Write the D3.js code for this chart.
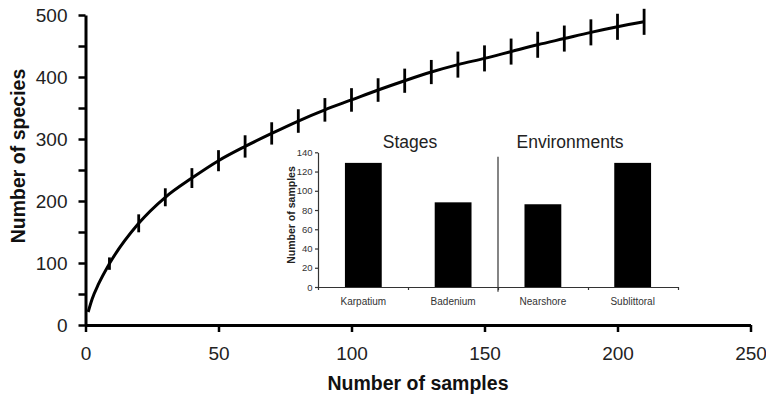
<!DOCTYPE html>
<html>
<head>
<meta charset="utf-8">
<script src="https://cdn.jsdelivr.net/npm/d3@7"></script>
<style>
  html, body { margin: 0; padding: 0; background: #fff; }
  svg { display: block; }
  text { font-family: "Liberation Sans", Arial, sans-serif; }
</style>
</head>
<body>
<svg id="chart" width="766" height="399"></svg>
<script>
// Rarefaction curve: number of samples vs. species, with standard deviation bars
const samples = [1, 2.5, 5, 9, 20, 30, 40, 50, 60, 70, 80, 90, 100, 110, 120, 130, 140, 150, 160, 170, 180, 190, 200, 210];
const species = [21, 42, 67, 99, 164, 206, 237, 265, 288, 309, 329, 347, 363, 379, 394, 408, 420, 430, 441, 452, 462, 472, 481, 489];
const speciesSD = [0, 0, 0, 10, 14.5, 14.5, 16, 17, 18, 18, 19, 19, 19, 19, 19.5, 19.5, 21, 21, 21, 21, 21, 21, 21, 21];

const xTicks = [0, 50, 100, 150, 200, 250];
const yTicks = [0, 50, 100, 150, 200, 250, 300, 350, 400, 450, 500];

// Inset: sample counts per stage and per environment
const insetGroups = ["Stages", "Environments"];
const insetCategories = ["Karpatium", "Badenium", "Nearshore", "Sublittoral"];
const insetCounts = [129, 88, 86, 129];
const insetYTicks = [0, 20, 40, 60, 80, 100, 120, 140];

const svg = d3.select("#chart");

// ---- main plot ----
const x = d3.scaleLinear().domain([0, 250]).range([85.5, 750.5]);
const y = d3.scaleLinear().domain([0, 500]).range([325, 15]);

const points = samples.map((s, i) => ({ s, v: species[i], sd: speciesSD[i] }));

const line = d3.line()
  .x(d => x(d.s))
  .y(d => y(d.v))
  .curve(d3.curveMonotoneX);

svg.append("path")
  .datum(points)
  .attr("d", line)
  .attr("fill", "none")
  .attr("stroke", "#000")
  .attr("stroke-width", 3);

svg.append("g")
  .selectAll("line")
  .data(points.filter(d => d.sd > 0))
  .join("line")
  .attr("x1", d => x(d.s))
  .attr("x2", d => x(d.s))
  .attr("y1", d => y(d.v - d.sd))
  .attr("y2", d => y(d.v + d.sd))
  .attr("stroke", "#000")
  .attr("stroke-width", 2.8);

const yAxis = d3.axisLeft(y)
  .tickValues(yTicks)
  .tickSize(7)
  .tickSizeOuter(0)
  .tickPadding(11)
  .tickFormat(d => (d % 100 === 0 ? d : ""));

const gy = svg.append("g").attr("transform", "translate(85.5,0)").call(yAxis);

const xAxis = d3.axisBottom(x)
  .tickValues(xTicks)
  .tickSize(7)
  .tickSizeOuter(0)
  .tickPadding(15);

const gx = svg.append("g").attr("transform", "translate(0,325)").call(xAxis);

[gx, gy].forEach(g => {
  g.select(".domain").attr("stroke", "#000").attr("stroke-width", 3);
  g.selectAll(".tick line").attr("stroke", "#000").attr("stroke-width", 2.5);
  g.selectAll(".tick text")
    .attr("fill", "#222")
    .style("font-size", "19px")
    .style("font-family", "'Liberation Sans', Arial, sans-serif");
});

svg.append("text")
  .attr("x", 418)
  .attr("y", 390)
  .attr("text-anchor", "middle")
  .attr("fill", "#111")
  .style("font-size", "19.5px")
  .style("font-weight", "bold")
  .text("Number of samples");

svg.append("text")
  .attr("transform", "translate(25,156) rotate(-90)")
  .attr("text-anchor", "middle")
  .attr("fill", "#111")
  .style("font-size", "19.5px")
  .style("font-weight", "bold")
  .text("Number of species");

// ---- inset bar chart ----
const ix = d3.scaleBand().domain(insetCategories).range([318, 678]).paddingInner(0.59).paddingOuter(0.3);
const ixEdges = d3.scaleLinear().domain([0, 4]).range([318, 678]);
const iy = d3.scaleLinear().domain([0, 140]).range([287, 152.3]);

const inset = svg.append("g");

inset.selectAll("rect")
  .data(insetCategories.map((c, i) => ({ c, v: insetCounts[i] })))
  .join("rect")
  .attr("x", d => ix(d.c))
  .attr("width", ix.bandwidth())
  .attr("y", d => iy(d.v))
  .attr("height", d => iy(0) - iy(d.v))
  .attr("fill", "#000");

const iyAxis = d3.axisLeft(iy)
  .tickValues(insetYTicks)
  .tickSize(3)
  .tickSizeOuter(0)
  .tickPadding(2.5);
const giy = inset.append("g").attr("transform", "translate(318,0)").call(iyAxis);

// category boundary ticks along the inset baseline
const gEdges = inset.append("g").attr("transform", "translate(0,287)")
  .call(d3.axisBottom(ixEdges).ticks(4).tickSize(3).tickSizeOuter(0).tickFormat(""));

const gix = inset.append("g").attr("transform", "translate(0,287)")
  .call(d3.axisBottom(ix).tickSize(0).tickPadding(11));
gix.select(".domain").remove();

[giy, gEdges].forEach(g => {
  g.select(".domain").attr("stroke", "#333").attr("stroke-width", 1.2);
  g.selectAll(".tick line").attr("stroke", "#333").attr("stroke-width", 1.2);
});
[giy, gix].forEach(g => {
  g.selectAll(".tick text")
    .attr("fill", "#333")
    .style("font-size", "9.5px")
    .style("font-family", "'Liberation Sans', Arial, sans-serif");
});
gix.selectAll(".tick text").style("font-size", "10px");

// divider between the two groups
inset.append("line")
  .attr("x1", ixEdges(2)).attr("x2", ixEdges(2))
  .attr("y1", 156.7).attr("y2", 291.7)
  .attr("stroke", "#333")
  .attr("stroke-width", 1.2);

inset.selectAll("text.group")
  .data(insetGroups)
  .join("text")
  .attr("class", "group")
  .attr("x", (d, i) => (ixEdges(i * 2) + ixEdges(i * 2 + 2)) / 2 + (i === 0 ? 2 : -18))
  .attr("y", 148)
  .attr("text-anchor", "middle")
  .attr("fill", "#222")
  .style("font-size", "17.5px")
  .text(d => d);

inset.append("text")
  .attr("transform", "translate(295,215) rotate(-90)")
  .attr("text-anchor", "middle")
  .attr("fill", "#222")
  .style("font-size", "10.5px")
  .style("font-weight", "bold")
  .text("Number of samples");
</script>
</body>
</html>
